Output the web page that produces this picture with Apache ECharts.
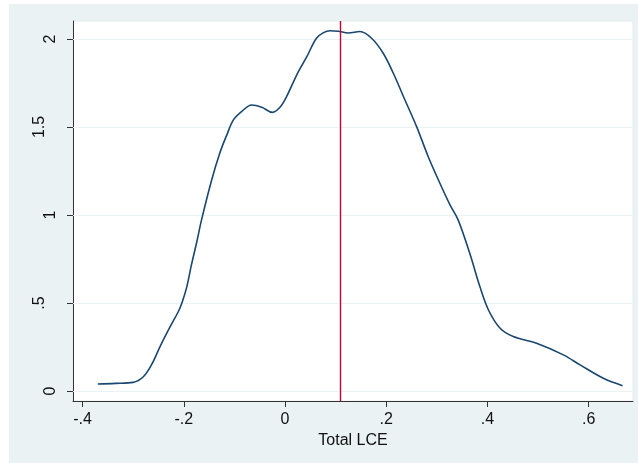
<!DOCTYPE html>
<html>
<head>
<meta charset="utf-8">
<script src="https://cdn.jsdelivr.net/npm/echarts@6/dist/echarts.min.js"></script>
<style>
html,body{margin:0;padding:0;background:#fff;}
#chart{width:638px;height:463px;}
</style>
</head>
<body>
<div id="chart"></div>
<script>
// Kernel density estimate of Total LCE
const densityX = [-0.370,-0.335,-0.300,-0.280,-0.264,-0.247,-0.227,-0.211,-0.204,-0.194,-0.185,-0.175,-0.165,-0.145,-0.129,-0.115,-0.102,-0.086,-0.066,-0.046,-0.025,-0.010,0.003,0.023,0.043,0.062,0.076,0.089,0.105,0.125,0.148,0.171,0.194,0.214,0.237,0.260,0.283,0.306,0.326,0.342,0.365,0.385,0.402,0.425,0.451,0.497,0.550,0.583,0.629,0.667];
const densityY = [0.040,0.043,0.049,0.081,0.148,0.252,0.365,0.450,0.498,0.593,0.716,0.839,0.972,1.199,1.351,1.455,1.540,1.587,1.625,1.612,1.583,1.612,1.672,1.795,1.899,2.004,2.036,2.047,2.044,2.034,2.042,2.004,1.919,1.805,1.653,1.502,1.331,1.180,1.057,0.972,0.782,0.593,0.460,0.356,0.309,0.271,0.205,0.148,0.072,0.030];
const meanLine = 0.108;
const xTicks = [-0.4,-0.2,0,0.2,0.4,0.6];
const yTicks = [0,0.5,1,1.5,2];
const xTitle = 'Total LCE';

const yIntTicks = yTicks.filter(v => Number.isInteger(v));
const yDecTicks = yTicks.filter(v => !Number.isInteger(v));
const fmt = v => String(v).replace('0.', '.');
const FONT = '"Liberation Sans", Arial, sans-serif';
const Y_MIN = -0.057, Y_MAX = 2.102;

const chart = echarts.init(document.getElementById('chart'), null, {renderer:'canvas'});
chart.setOption({
  animation:false,
  backgroundColor:'#ffffff',
  graphic:[{
    type:'rect', z:-10, silent:true,
    shape:{x:9, y:4, width:629, height:459},
    style:{fill:'#EAF2F3'}
  }],
  grid:{left:73, right:5, top:21, bottom:62, show:true, backgroundColor:'#ffffff', borderColor:'#E4ECEE', borderWidth:1},
  xAxis:{
    type:'value', min:-0.419, max:0.6876,
    name:xTitle, nameLocation:'middle', nameGap:27,
    nameTextStyle:{fontFamily:FONT, fontSize:16, color:'#111'},
    axisLine:{show:true, onZero:false, lineStyle:{color:'#333', width:1}},
    axisTick:{show:true, length:6, customValues:xTicks, lineStyle:{color:'#333'}},
    axisLabel:{customValues:xTicks, formatter:fmt, margin:11, fontFamily:FONT, fontSize:16, color:'#111', showMinLabel:true, showMaxLabel:true},
    splitLine:{show:false}
  },
  yAxis:[{
    type:'value', min:Y_MIN, max:Y_MAX, position:'left',
    axisLine:{show:true, onZero:false, lineStyle:{color:'#333', width:1}},
    axisTick:{show:true, length:6, customValues:yTicks, lineStyle:{color:'#333'}},
    axisLabel:{customValues:yIntTicks, formatter:fmt, rotate:90, margin:14, fontFamily:FONT, fontSize:16, color:'#111'},
    splitLine:{show:false}
  },{
    type:'value', min:Y_MIN, max:Y_MAX, position:'left', offset:0,
    axisLine:{show:false},
    axisTick:{show:false},
    axisLabel:{customValues:yDecTicks, formatter:fmt, rotate:90, margin:25, fontFamily:FONT, fontSize:16, color:'#111'},
    splitLine:{show:false}
  }],
  series:[{
    type:'line', data:[], z:1, yAxisIndex:0,
    markLine:{
      silent:true, symbol:'none', animation:false, z:1,
      label:{show:false},
      data:yTicks.map(v=>({yAxis:v, lineStyle:{color:'#EAF2F3', width:1, type:'solid'}}))
    }
  },{
    type:'line', yAxisIndex:0,
    data:densityX.map((x,i)=>[x,densityY[i]]),
    showSymbol:false, smooth:0.35,
    lineStyle:{color:'#1A476F', width:1.6},
    z:3,
    markLine:{
      silent:true, symbol:'none', animation:false, z:4,
      label:{show:false},
      data:[{xAxis:meanLine, lineStyle:{color:'#C10534', width:1.4, type:'solid'}}]
    }
  }]
});
</script>
</body>
</html>
